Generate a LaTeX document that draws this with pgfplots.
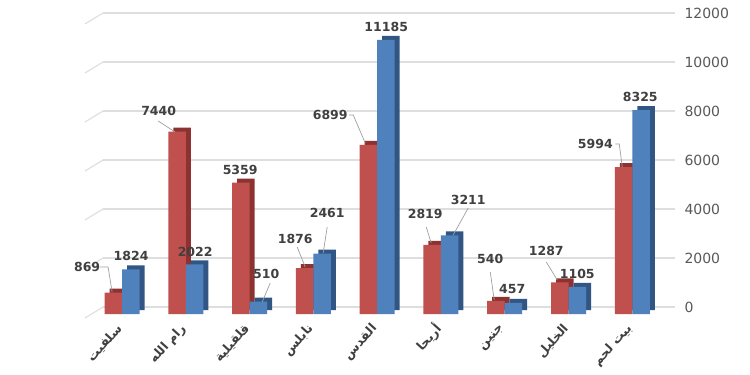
\documentclass[border=0pt]{standalone}
\usepackage{pgfplots}
\pgfplotsset{compat=1.18}
\usepackage{pgfplotstable}
\usepackage{fontspec}
\setmainfont{DejaVu Sans}
\newfontfamily\arabicfont[Script=Arabic]{DejaVu Sans}
\TeXXeTstate=1
\definecolor{rfront}{RGB}{192,80,77}
\definecolor{rside}{RGB}{140,50,48}
\definecolor{bfront}{RGB}{79,129,189}
\definecolor{bside}{RGB}{50,86,132}
\definecolor{txt}{RGB}{64,64,64}
\definecolor{tick}{RGB}{89,89,89}
\definecolor{grd}{RGB}{222,222,222}
\definecolor{ldr}{RGB}{160,160,160}

\pgfplotstableread{
x r b
0 869 1824
1 7440 2022
2 5359 510
3 1876 2461
4 6899 11185
5 2819 3211
6 540 457
7 1287 1105
8 5994 8325
}\bars

\pgfplotstableread{
x y lab
-0.549 1633 869
0.141 2082 1824
0.573 8000 7440
1.145 2245 2022
1.851 5592 5359
2.259 1347 510
2.714 2776 1876
3.216 3837 2461
3.263 7837 6899
4.141 11429 11185
4.753 3796 2819
5.427 4367 3211
5.773 1959 540
6.118 735 457
6.651 2286 1287
7.137 1347 1105
7.420 6653 5994
8.125 8571 8325
}\labels

\begin{document}
\begin{tikzpicture}
\fill[white] (-103bp,-68bp) rectangle (647bp,307bp);
\useasboundingbox (-103bp,-68bp) rectangle (647bp,307bp);
\foreach \i in {0,...,6} \draw[grd, line width=1.1bp] (0,\i*49bp) -- ++(-18bp,-11bp);
\begin{axis}[at={(0,0)}, anchor=south west, scale only axis,
  width=572bp, height=294bp,
  xmin=-0.30, xmax=8.67, ymin=0, ymax=12000, clip=false,
  axis x line*=bottom, axis y line*=right, axis line style={draw=none},
  ytick={0,2000,...,12000}, ymajorgrids, grid style={grd, line width=1.1bp},
  major tick length=0pt, scaled y ticks=false,
  xtick={0,...,8},
  xticklabels={{\arabicfont\beginR سلفيت\endR},{\arabicfont\beginR رام الله\endR},{\arabicfont\beginR قلقيلية\endR},{\arabicfont\beginR نابلس\endR},{\arabicfont\beginR القدس\endR},{\arabicfont\beginR أريحا\endR},{\arabicfont\beginR جنين\endR},{\arabicfont\beginR الخليل\endR},{\arabicfont\beginR بيت لحم\endR}},
  xticklabel style={rotate=48, anchor=east, font=\fontsize{12.5bp}{15bp}\selectfont\bfseries, text=txt},
  xticklabel shift=17bp,
  yticklabel style={font=\fontsize{14bp}{16bp}\selectfont, text=tick},
  yticklabel shift=6bp,
  /pgf/number format/1000 sep={}, /pgf/number format/assume math mode=true,
]
\addplot[ybar, bar width=17.5bp, bar shift=-8.75bp, fill=rside, draw=none, xshift=5bp, yshift=-3bp] table[x=x,y=r]{\bars};
\addplot[ybar, bar width=17.5bp, bar shift=8.75bp, fill=bside, draw=none, xshift=5bp, yshift=-3bp] table[x=x,y=b]{\bars};
\addplot[ybar, bar width=17.5bp, bar shift=-8.75bp, fill=rfront, draw=none, yshift=-7bp] table[x=x,y=r]{\bars};
\addplot[ybar, bar width=17.5bp, bar shift=8.75bp, fill=bfront, draw=none, yshift=-7bp] table[x=x,y=b]{\bars};
% leader lines
\addplot[draw=ldr, mark=none, line width=0.7bp] coordinates {(-0.345,1633)(-0.220,1633)(-0.157,612)};
\addplot[draw=ldr, mark=none, line width=0.7bp] coordinates {(0.565,7592)(0.831,7143)};
\addplot[draw=ldr, mark=none, line width=0.7bp] coordinates {(2.322,980)(2.196,204)};
\addplot[draw=ldr, mark=none, line width=0.7bp] coordinates {(2.745,2449)(2.871,1633)};
\addplot[draw=ldr, mark=none, line width=0.7bp] coordinates {(3.216,3265)(3.153,2204)};
\addplot[draw=ldr, mark=none, line width=0.7bp] coordinates {(3.561,7837)(3.624,7837)(3.812,6694)};
\addplot[draw=ldr, mark=none, line width=0.7bp] coordinates {(4.769,3265)(4.847,2612)};
\addplot[draw=ldr, mark=none, line width=0.7bp] coordinates {(5.427,4041)(5.192,2939)};
\addplot[draw=ldr, mark=none, line width=0.7bp] coordinates {(5.773,1429)(5.835,286)};
\addplot[draw=ldr, mark=none, line width=0.7bp] coordinates {(6.651,1837)(6.824,1102)};
\addplot[draw=ldr, mark=none, line width=0.7bp] coordinates {(7.733,6653)(7.796,6653)(7.843,5714)};
% value labels
\addplot[draw=none, mark=none, nodes near coords, point meta=explicit symbolic,
  every node near coord/.append style={anchor=center, inner sep=0pt, font=\fontsize{12.5bp}{15bp}\selectfont\bfseries, text=txt}]
  table[x=x, y=y, meta=lab]{\labels};
\end{axis}
\end{tikzpicture}
\end{document}
